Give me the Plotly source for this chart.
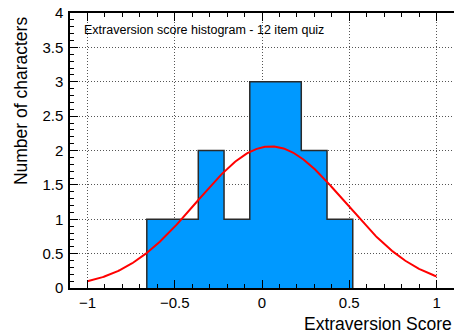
import plotly.graph_objects as go
import numpy as np

# Histogram binning and contents
bin_edges = [-0.66, -0.5125, -0.365, -0.2175, -0.07, 0.0775, 0.225, 0.3725, 0.52]
counts = [1, 1, 2, 1, 3, 3, 2, 1]

# Gaussian fit parameters
fit_amplitude = 2.06
fit_mean = 0.05
fit_sigma = 0.425
fit_range = (-1.0, 1.0)

FONT = "Liberation Sans, Arial, Helvetica, sans-serif"

# Step outline of the histogram (filled to zero)
step_x = [bin_edges[0]] + bin_edges[:-1] + [bin_edges[-1]]
step_y = [0] + counts + [0]

fit_x = np.linspace(fit_range[0], fit_range[1], 300)
fit_y = fit_amplitude * np.exp(-0.5 * ((fit_x - fit_mean) / fit_sigma) ** 2)

fig = go.Figure()
fig.add_trace(go.Scatter(
    x=step_x, y=step_y, mode="lines", line_shape="hv",
    fill="tozeroy", fillcolor="rgb(0,153,255)",
    line=dict(color="#2a2a2a", width=1.5),
    hoverinfo="skip", showlegend=False,
))
fig.add_trace(go.Scatter(
    x=fit_x, y=fit_y, mode="lines",
    line=dict(color="rgb(255,0,0)", width=2),
    showlegend=False,
))

axis_common = dict(
    showline=True, linecolor="black", linewidth=1.5,
    ticks="inside", tickcolor="black", ticklen=8, tickwidth=1,
    showgrid=True, gridcolor="#555555", griddash="1px,2px", gridwidth=1,
    zeroline=False,
    tickfont=dict(family=FONT, size=15, color="black"),
)

fig.update_xaxes(
    range=[-1.1, 1.1], tick0=-1, dtick=0.5, mirror="ticks",
    minor=dict(dtick=0.1, ticks="inside", ticklen=4, tickcolor="black", showgrid=False),
    **axis_common,
)
fig.update_yaxes(
    range=[0, 4], tick0=0, dtick=0.5, mirror=False,
    minor=dict(dtick=0.1, ticks="inside", ticklen=4, tickcolor="black", showgrid=False),
    ticklabelstandoff=2,
    **axis_common,
)

fig.add_annotation(
    text="Extraversion score histogram - 12 item quiz",
    xref="paper", yref="paper", x=0.03, y=0.94,
    xanchor="left", yanchor="middle", showarrow=False,
    font=dict(family=FONT, size=12.5, color="black"),
)
fig.add_annotation(
    text="Number of characters",
    xref="paper", yref="paper", x=-0.127, y=0.995,
    xanchor="center", yanchor="top", textangle=-90, showarrow=False,
    font=dict(family=FONT, size=17.5, color="black"),
)
fig.add_annotation(
    text="Extraversion Score",
    xref="paper", yref="paper", x=1.0, y=-0.175,
    xanchor="right", yanchor="bottom", showarrow=False,
    font=dict(family=FONT, size=17.5, color="black"),
)

fig.update_layout(
    width=454, height=336,
    margin=dict(l=70, r=0, t=13, b=48),
    paper_bgcolor="white", plot_bgcolor="white",
    font=dict(family=FONT),
)

fig.write_html("out.html")
